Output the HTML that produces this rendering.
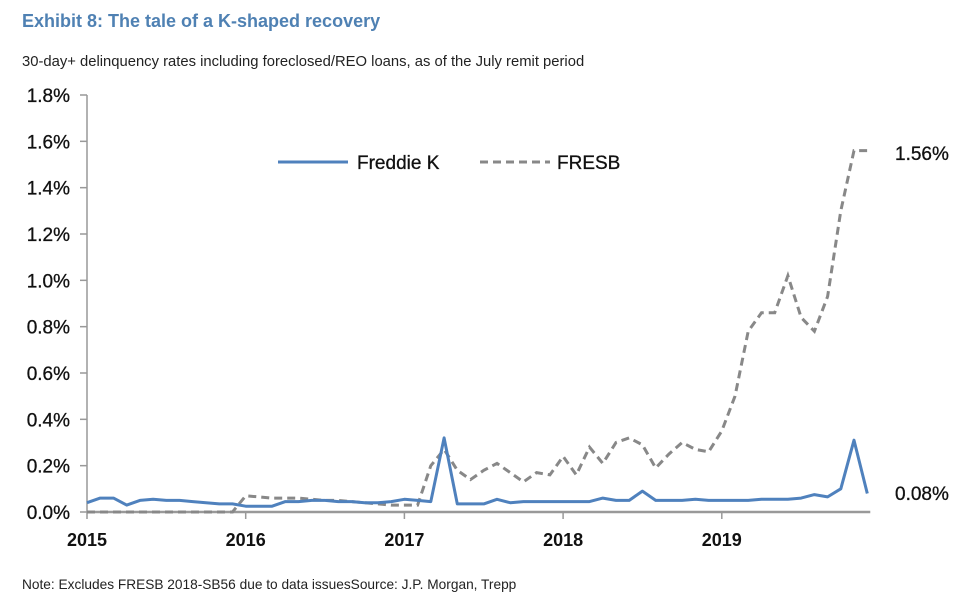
<!DOCTYPE html>
<html><head><meta charset="utf-8"><style>
body{margin:0;background:#fff;font-family:"Liberation Sans",sans-serif;}
#wrap{position:relative;width:969px;height:603px;overflow:hidden;}
</style></head><body><div id="wrap">
<svg id="chart" width="969" height="603" xmlns="http://www.w3.org/2000/svg" font-family="Liberation Sans, sans-serif">
<text x="22" y="27" font-size="18" font-weight="bold" fill="#4f81b3">Exhibit 8: The tale of a K-shaped recovery</text>
<text x="22" y="66" font-size="14.8" fill="#222">30-day+ delinquency rates including foreclosed/REO loans, as of the July remit period</text>
<text x="22" y="589" font-size="13.7" fill="#222">Note: Excludes FRESB 2018-SB56 due to data issuesSource: J.P. Morgan, Trepp</text>
<g id="axes"></g>
<g id="series"></g>
<g>
<line x1="278" y1="162" x2="348" y2="162" stroke="#4f81bd" stroke-width="3"/>
<text x="357" y="169" font-size="19" fill="#111" stroke="#111" stroke-width="0.3">Freddie K</text>
<line x1="480" y1="162" x2="550" y2="162" stroke="#888" stroke-width="3" stroke-dasharray="8,5"/>
<text x="557" y="169" font-size="19" fill="#111" stroke="#111" stroke-width="0.3">FRESB</text>
</g>
<text x="895" y="160" font-size="19" fill="#111" stroke="#111" stroke-width="0.3">1.56%</text>
<text x="895" y="500" font-size="19" fill="#111" stroke="#111" stroke-width="0.3">0.08%</text>
</svg>
<script>
const yearLabels=["2015","2016","2017","2018","2019"];
const yTicks=[0,0.2,0.4,0.6,0.8,1.0,1.2,1.4,1.6,1.8];
const freddieK=[0.04,0.06,0.06,0.03,0.05,0.055,0.05,0.05,0.045,0.04,0.035,0.035,
0.025,0.025,0.025,0.045,0.045,0.05,0.05,0.045,0.045,0.04,0.04,0.045,
0.055,0.05,0.045,0.32,0.035,0.035,0.035,0.055,0.04,0.045,0.045,0.045,
0.045,0.045,0.045,0.06,0.05,0.05,0.09,0.05,0.05,0.05,0.055,0.05,
0.05,0.05,0.05,0.055,0.055,0.055,0.06,0.075,0.065,0.1,0.31,0.08];
const fresb=[0,0,0,0,0,0,0,0,0,0,0,0,
0.07,0.065,0.06,0.06,0.06,0.055,0.05,0.05,0.045,0.04,0.035,0.03,
0.03,0.03,0.2,0.27,0.18,0.14,0.18,0.21,0.17,0.13,0.17,0.16,
0.24,0.16,0.28,0.21,0.3,0.32,0.29,0.19,0.25,0.3,0.27,0.26,
0.35,0.5,0.78,0.86,0.86,1.02,0.84,0.78,0.93,1.3,1.56,1.56];
const X0=87,YEARW=158.7,Y0=512,YMAX=1.8,YH=417;
function xs(i){return X0+i*YEARW/12;}
function ys(v){return Y0-v/YMAX*YH;}
const NS="http://www.w3.org/2000/svg";
const axes=document.getElementById('axes'),ser=document.getElementById('series');
function mk(tag,attrs,parent){const e=document.createElementNS(NS,tag);for(const k in attrs)e.setAttribute(k,attrs[k]);parent.appendChild(e);return e;}
let a=mk('line',{x1:X0,y1:ys(YMAX),x2:X0,y2:Y0,stroke:'#999','stroke-width':1.5},axes);


yTicks.forEach(v=>{
 const t=mk('line',{x1:X0-7,y1:ys(v),x2:X0,y2:ys(v),stroke:'#999','stroke-width':1.5},axes);
 
 
 const l=mk('text',{x:70,y:ys(v)+7,'text-anchor':'end','font-size':19,fill:'#111',stroke:'#111','stroke-width':0.3},axes);
 l.textContent=v.toFixed(1)+'%';
 
 
});
let xa=mk('line',{x1:X0,y1:Y0,x2:xs(59)+3,y2:Y0,stroke:'#999','stroke-width':2.5},axes);


yearLabels.forEach((y,k)=>{
 const x=xs(k*12);
 const t=mk('line',{x1:x,y1:Y0,x2:x,y2:Y0+7,stroke:'#999','stroke-width':1.5},axes);
 
 
 const l=mk('text',{x:x,y:Y0+34,'text-anchor':'middle','font-size':18,'font-weight':'bold',fill:'#111'},axes);
 l.textContent=y;
 
 
});
function pts(arr){return arr.map((v,i)=>xs(i).toFixed(1)+','+ys(v).toFixed(1)).join(' ');}
const p2=mk('polyline',{points:pts(fresb),fill:'none',stroke:'#888','stroke-width':3,'stroke-dasharray':'8,5'},ser);


const p1=mk('polyline',{points:pts(freddieK),fill:'none',stroke:'#4f81bd','stroke-width':3,'stroke-linejoin':'round'},ser);


</script>
</div></body></html>
